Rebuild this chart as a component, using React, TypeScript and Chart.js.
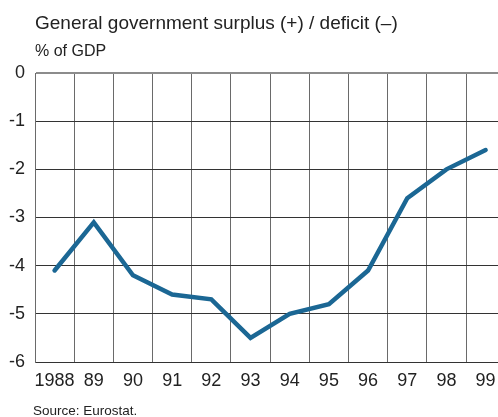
import React, { useEffect, useRef } from "react";
import { Chart, registerables } from "chart.js";

Chart.register(...registerables);

const years = ["1988", "89", "90", "91", "92", "93", "94", "95", "96", "97", "98", "99"];
const balance = [-4.1, -3.1, -4.2, -4.6, -4.7, -5.5, -5.0, -4.8, -4.1, -2.6, -2.0, -1.6];
const yMin = -6;
const yMax = 0;

const titleText = "General government surplus (+) / deficit (\u2013)";
const unitText = "% of GDP";
const sourceText = "Source: Eurostat.";

const FONT = "'Liberation Sans', Arial, sans-serif";

export default function App() {
  const ref = useRef<HTMLCanvasElement | null>(null);

  useEffect(() => {
    if (!ref.current) return;
    const chart = new Chart(ref.current, {
      type: "line",
      data: {
        labels: years,
        datasets: [
          {
            data: balance,
            borderColor: "#1b6794",
            borderWidth: 4.5,
            pointRadius: 0,
            borderCapStyle: "round",
            borderJoinStyle: "miter",
            tension: 0,
            fill: false,
          },
        ],
      },
      options: {
        animation: false,
        responsive: false,
        devicePixelRatio: 1,
        layout: { padding: { left: 0, right: 14.8, top: 73, bottom: 15 } },
        plugins: {
          legend: { display: false },
          tooltip: { enabled: false },
          title: { display: false },
        },
        scales: {
          x: {
            type: "category",
            offset: true,
            grid: {
              offset: true,
              color: "#6a6a6a",
              lineWidth: 1,
              drawTicks: false,
            },
            border: { display: true, color: "#333333", width: 1 },
            ticks: {
              color: "#222222",
              font: { family: FONT, size: 18 },
              padding: 8,
              maxRotation: 0,
              autoSkip: false,
            },
            afterFit: (scale: any) => {
              scale.height = 40;
            },
          },
          y: {
            min: yMin,
            max: yMax,
            grid: {
              color: (ctx: any) => (ctx.tick && ctx.tick.value === 0 ? "#8c8c8c" : "#333333"),
              lineWidth: (ctx: any) => (ctx.tick && ctx.tick.value === 0 ? 2 : 1),
              drawTicks: false,
            },
            border: { display: true, color: "#6a6a6a", width: 1 },
            ticks: {
              stepSize: 1,
              color: "#222222",
              font: { family: FONT, size: 18 },
              padding: 10,
            },
            afterFit: (scale: any) => {
              scale.width = 35;
            },
          },
        },
      },
    });
    return () => chart.destroy();
  }, []);

  return (
    <div
      style={{
        position: "absolute",
        left: 0,
        top: 0,
        width: 498,
        height: 417,
        overflow: "hidden",
        background: "#ffffff",
        fontFamily: FONT,
        color: "#222222",
      }}
    >
      <canvas
        ref={ref}
        width={520}
        height={417}
        style={{ position: "absolute", left: 0, top: 0, width: 520, height: 417, display: "block" }}
      />
      <div
        style={{
          position: "absolute",
          left: 35,
          top: 13,
          fontSize: 19,
          lineHeight: "19px",
          whiteSpace: "nowrap",
        }}
      >
        {titleText}
      </div>
      <div
        style={{
          position: "absolute",
          left: 35,
          top: 42.5,
          fontSize: 16,
          lineHeight: "16px",
          whiteSpace: "nowrap",
        }}
      >
        {unitText}
      </div>
      <div
        style={{
          position: "absolute",
          left: 33,
          top: 403.5,
          fontSize: 13.5,
          lineHeight: "13.5px",
          whiteSpace: "nowrap",
        }}
      >
        {sourceText}
      </div>
    </div>
  );
}
